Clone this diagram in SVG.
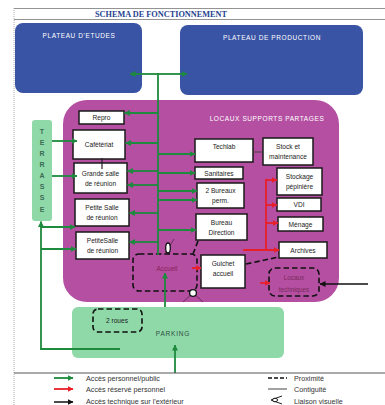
<svg xmlns="http://www.w3.org/2000/svg" width="385" height="405" viewBox="0 0 385 405">
<defs>
<style>
text{font-family:"Liberation Sans","DejaVu Sans",sans-serif;}
.box{fill:#fff;stroke:#1a1a1a;stroke-width:1.5;}
.lbl{font-size:6.6px;fill:#222;text-anchor:middle;}
.wt{font-size:6.5px;fill:#fff;text-anchor:middle;letter-spacing:0.6px;}
.g{stroke:#1e8a3e;stroke-width:1.8;fill:none;}
.ga{stroke:#1e8a3e;stroke-width:1.8;fill:none;marker-end:url(#ag);}
.ra{stroke:#e8202a;stroke-width:1.8;fill:none;marker-end:url(#ar);}
.r{stroke:#e8202a;stroke-width:1.8;fill:none;}
.ba{stroke:#111;stroke-width:1.5;fill:none;marker-end:url(#ab);}
.d{stroke:#111;stroke-width:1.6;fill:none;stroke-dasharray:5.5 3;}
.leg{font-size:7.2px;fill:#333;}
</style>
<marker id="ag" markerUnits="userSpaceOnUse" markerWidth="6" markerHeight="6" viewBox="0 0 6 6" refX="5.5" refY="3" orient="auto-start-reverse"><path d="M0,0 L6,3 L0,6 z" fill="#1e8a3e"/></marker>
<marker id="ar" markerUnits="userSpaceOnUse" markerWidth="6" markerHeight="6" viewBox="0 0 6 6" refX="5.5" refY="3" orient="auto"><path d="M0,0 L6,3 L0,6 z" fill="#e8202a"/></marker>
<marker id="ab" markerUnits="userSpaceOnUse" markerWidth="6" markerHeight="6" viewBox="0 0 6 6" refX="5.5" refY="3" orient="auto"><path d="M0,0 L6,3 L0,6 z" fill="#111"/></marker>
</defs>
<rect width="385" height="405" fill="#fff"/>
<!-- frame -->
<line x1="14" y1="8.5" x2="385" y2="8.5" stroke="#777" stroke-width="0.8"/>
<line x1="14" y1="19.5" x2="385" y2="19.5" stroke="#777" stroke-width="0.8"/>
<line x1="14" y1="8" x2="14" y2="405" stroke="#999" stroke-width="0.8" stroke-dasharray="1 1"/>
<text x="161" y="17" font-weight="bold" font-size="7.5" fill="#233f8f" text-anchor="middle" textLength="132" lengthAdjust="spacingAndGlyphs" style="font-family:'Liberation Serif',serif">SCHEMA DE FONCTIONNEMENT</text>

<g id="plateau-etudes"><rect x="15" y="23" width="127" height="70" rx="8" fill="#3953a5"/><text class="wt" x="79" y="37.5">PLATEAU D'ETUDES</text></g>
<g id="plateau-production"><rect x="180" y="25" width="183" height="70" rx="8" fill="#3953a5"/><text class="wt" x="272" y="40">PLATEAU DE PRODUCTION</text></g>
<g id="locaux"><rect x="63" y="100" width="276" height="202" rx="24" fill="#b44fa2"/><text class="wt" x="267" y="121">LOCAUX SUPPORTS PARTAGES</text></g>
<g id="terrasse"><rect x="32" y="120" width="20" height="101" rx="3" fill="#8fd9a9"/>
<g font-size="7" font-weight="bold" fill="#3b6b52" text-anchor="middle"><text x="42" y="134">T</text><text x="42" y="145">E</text><text x="42" y="156">R</text><text x="42" y="167">R</text><text x="42" y="178">A</text><text x="42" y="189">S</text><text x="42" y="200">S</text><text x="42" y="212">E</text></g></g>
<g id="parking"><rect x="72" y="307" width="212" height="51" rx="6" fill="#8fd9a9"/><text x="173" y="335.5" font-size="6.5" fill="#2f4f3f" text-anchor="middle" letter-spacing="0.8">PARKING</text></g>
<g id="deux-roues"><rect class="d" x="93" y="309" width="49" height="23" rx="5"/><text class="lbl" x="117" y="323">2 roues</text></g>

<g id="repro"><rect class="box" x="79" y="111" width="45" height="13"/><text class="lbl" x="101.5" y="120">Repro</text></g>
<g id="cafeteriat"><rect class="box" x="73" y="130" width="52" height="29"/><text class="lbl" x="99" y="147">Cafétériat</text></g>
<g id="grande-salle"><rect class="box" x="74" y="163" width="53" height="30"/><text class="lbl" x="100.5" y="176">Grande salle</text><text class="lbl" x="100.5" y="186">de réunion</text></g>
<g id="petite-salle-1"><rect class="box" x="75" y="199" width="54" height="27"/><text class="lbl" x="102" y="210">Petite Salle</text><text class="lbl" x="102" y="220">de réunion</text></g>
<g id="petite-salle-2"><rect class="box" x="76" y="232" width="53" height="27"/><text class="lbl" x="102.5" y="243">PetiteSalle</text><text class="lbl" x="102.5" y="253">de réunion</text></g>
<g id="techlab"><rect class="box" x="195" y="139" width="58" height="23"/><text class="lbl" x="224" y="149">Techlab</text></g>
<g id="stock"><rect class="box" x="263" y="138" width="50" height="27"/><text class="lbl" x="288" y="149">Stock et</text><text class="lbl" x="288" y="159">maintenance</text></g>
<g id="sanitaires"><rect class="box" x="195" y="167" width="48" height="12"/><text class="lbl" x="219" y="176">Sanitaires</text></g>
<g id="bureaux"><rect class="box" x="197" y="183" width="47" height="25"/><text class="lbl" x="220.5" y="193">2 Bureaux</text><text class="lbl" x="220.5" y="203">perm.</text></g>
<g id="direction"><rect class="box" x="196" y="214" width="51" height="26"/><text class="lbl" x="221.5" y="225">Bureau</text><text class="lbl" x="221.5" y="235">Direction</text></g>
<g id="stockage"><rect class="box" x="277" y="168" width="45" height="27"/><text class="lbl" x="299.5" y="179">Stockage</text><text class="lbl" x="299.5" y="189">pépinière</text></g>
<g id="vdi"><rect class="box" x="277" y="198" width="44" height="13"/><text class="lbl" x="299" y="207">VDI</text></g>
<g id="menage"><rect class="box" x="278" y="217" width="45" height="14"/><text class="lbl" x="300.5" y="226.5">Ménage</text></g>
<g id="archives"><rect class="box" x="279" y="242" width="48" height="16"/><text class="lbl" x="303" y="252.5">Archives</text></g>
<g id="guichet"><rect class="box" x="201" y="255" width="44" height="33"/><text class="lbl" x="223" y="266">Guichet</text><text class="lbl" x="223" y="276" font-size="5.8">accueil</text></g>
<g id="accueil"><rect class="d" x="133" y="254" width="64" height="37" rx="6"/><text x="167" y="271" font-size="6.5" fill="#8a1f55" text-anchor="middle">Accueil</text></g>
<g id="locaux-techniques"><rect class="d" x="269" y="268" width="50" height="28" rx="6"/><text x="294" y="280" font-size="6.3" fill="#7a2a5c" text-anchor="middle">Locaux</text><text x="294" y="292" font-size="6.3" fill="#7a2a5c" text-anchor="middle">techniques</text></g>

<g id="connectors">
<path class="ga" d="M158,74 H130" />
<path class="ga" d="M158,74 H187" />
<path class="g" d="M158,73 V255" />
<path class="ga" d="M158,113 H124.5" />
<path class="ga" d="M158,143 H125.5" />
<path class="ga" d="M158,171 H127.5" />
<path class="ga" d="M158,185 H127.5" />
<path class="ga" d="M158,213 H129.5" />
<path class="ga" d="M158,242 H129.5" />
<path class="ga" d="M158,154 H195" />
<path class="ga" d="M158,173 H195" />
<path class="ga" d="M158,191 H197" />
<path class="ga" d="M158,200 H197" />
<path class="ga" d="M158,230 H196" />
<path class="ga" d="M52,141 H77" />
<path class="ga" d="M52,176 H77" />
<path class="ga" d="M41,349 V221.5" />
<path class="ga" d="M41,227 H75" />
<path class="ga" d="M41,249 H76" />
<path class="g" d="M40.1,349 H120" />
<path class="ga" d="M165,307 V273" />
<path class="ga" d="M175,373 V345" />
<path class="r" d="M266,179.1 V250.9" />
<path class="ra" d="M265.1,180 H277" />
<path class="ra" d="M266,205 H277" />
<path class="ra" d="M266,223 H278" />
<path class="ra" d="M243,250 H279" />
<path class="ra" d="M192,268 H201" />
<path class="ra" d="M260,283 H270" />
<path class="ba" d="M368,284 H320" />
<path class="d" d="M198,241 L193,254" />
<path class="d" d="M246,264 L279,257" />
<path d="M102,158 V169" stroke="#222" stroke-width="1.2"/>
<path d="M253,152 H263" stroke="#444" stroke-width="1"/>
<path d="M164,255 L174,239" stroke="#4a2040" stroke-width="0.7"/>
<ellipse cx="168" cy="248" rx="2.3" ry="5" fill="#fff" stroke="#111" stroke-width="1.3"/>
<path d="M183,302 L193,293 L203,302" stroke="#4a2040" stroke-width="0.7" fill="none"/>
<circle cx="193" cy="293" r="3.4" fill="#fff" stroke="#111" stroke-width="1.3"/>
</g>

<g id="legend">
<line x1="14" y1="373" x2="385" y2="373" stroke="#555" stroke-width="1"/>
<path class="ga" d="M54,378 H73"/>
<path class="ra" d="M54,389 H73"/>
<path class="ba" d="M54,402 H73"/>
<text class="leg" x="86" y="380.5">Accès personnel/public</text>
<text class="leg" x="86" y="391.5">Accès réservé personnel</text>
<text class="leg" x="86" y="404">Accès technique sur l'extérieur</text>
<path d="M268,378 H287" stroke="#111" stroke-width="1.6" stroke-dasharray="4 2"/>
<path d="M268,389 H287" stroke="#444" stroke-width="1"/>
<path d="M282,396 L271,400 L282,404" stroke="#222" stroke-width="1" fill="none"/>
<ellipse cx="275" cy="400" rx="2.5" ry="1.8" fill="#fff" stroke="#111" stroke-width="1"/>
<text class="leg" x="294" y="380.5">Proximité</text>
<text class="leg" x="294" y="391.5">Contiguité</text>
<text class="leg" x="294" y="404">Liaison visuelle</text>
</g>
</svg>
